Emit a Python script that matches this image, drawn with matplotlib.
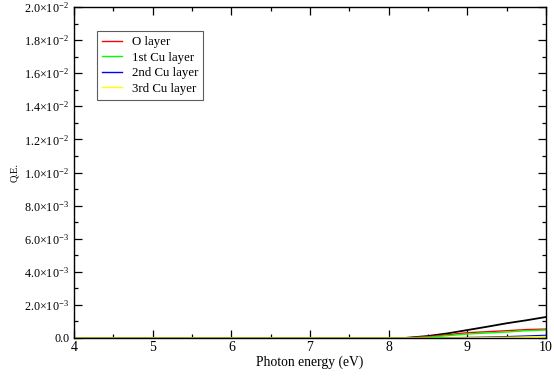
import matplotlib
matplotlib.use("Agg")
import math
import matplotlib.pyplot as plt
from matplotlib.ticker import MultipleLocator, FuncFormatter

plt.rcParams['font.family'] = ['Liberation Serif', 'DejaVu Serif']
plt.rcParams['mathtext.fontset'] = 'custom'
plt.rcParams['mathtext.rm'] = 'Liberation Serif'
plt.rcParams['mathtext.it'] = 'Liberation Serif:italic'

energy = [4.0, 5.0, 6.0, 7.0, 8.0, 8.2, 8.5, 8.75, 9.0, 9.25, 9.5, 9.75, 10.0]
total = [0, 0, 0, 0, 0, 0.0, 0.00012, 0.00028, 0.00048, 0.00068, 0.00089, 0.00107, 0.00127]
o_layer = [0, 0, 0, 0, 0, 0.0, 0.00008, 0.00020, 0.00032, 0.00038, 0.00044, 0.00051, 0.00054]
cu1 = [0, 0, 0, 0, 0, 0.0, 0.00005, 0.00014, 0.00024, 0.00030, 0.00036, 0.00044, 0.00048]
cu2 = [0, 0, 0, 0, 0, 0.0, 0.0, 0.00001, 0.00003, 0.00005, 0.00008, 0.00012, 0.00016]
cu3 = [0, 0, 0, 0, 0, 0.0, 0.0, 0.0, 0.00001, 0.00002, 0.00004, 0.00006, 0.00009]

fig = plt.figure(figsize=(5.54, 3.76), dpi=100)
ax = fig.add_axes([74/554, 1-338/376, (546-74)/554, (338-7)/376])

ax.plot(energy, total, color='black', lw=1.3)
ax.plot(energy, o_layer, color='red', lw=1.0, label='O layer')
ax.plot(energy, cu1, color='#00ff00', lw=1.0, label='1st Cu layer')
ax.plot(energy, cu2, color='blue', lw=1.0, label='2nd Cu layer')
ax.plot(energy, cu3, color='yellow', lw=1.0, label='3rd Cu layer')

ax.set_xlim(4, 10)
ax.set_ylim(0, 0.02)
ax.xaxis.set_major_locator(MultipleLocator(1))
ax.xaxis.set_minor_locator(MultipleLocator(0.5))
ax.yaxis.set_major_locator(MultipleLocator(0.002))
ax.yaxis.set_minor_locator(MultipleLocator(0.001))

def yfmt(v, pos):
    if abs(v) < 1e-12:
        return '0.0'
    e = int(math.floor(math.log10(abs(v)) + 1e-9))
    m = v / 10**e
    return r'$\mathrm{%.1f{\times}10^{%d}}$' % (m, e)

ax.yaxis.set_major_formatter(FuncFormatter(yfmt))
ax.tick_params(which='both', direction='in', top=True, right=True, width=0.9)
ax.tick_params(axis='y', labelsize=8.7)
ax.tick_params(axis='x', labelsize=10, pad=2)
ax.tick_params(which='major', length=6)
ax.tick_params(which='minor', length=3)
for s in ax.spines.values():
    s.set_linewidth(1.0)

ax.set_xlabel('Photon energy (eV)', fontsize=9.8, labelpad=1)
ax.set_ylabel('Q.E.', fontsize=7.5, labelpad=4)

leg = ax.legend(loc='upper left', bbox_to_anchor=(0.0487, 0.927), fontsize=9.3,
                frameon=True, fancybox=False, edgecolor='#333333',
                handlelength=1.5, handletextpad=0.8, labelspacing=0.27,
                borderpad=0.4, borderaxespad=0)
leg.get_frame().set_linewidth(0.8)

fig.savefig('out.png', dpi=100)
